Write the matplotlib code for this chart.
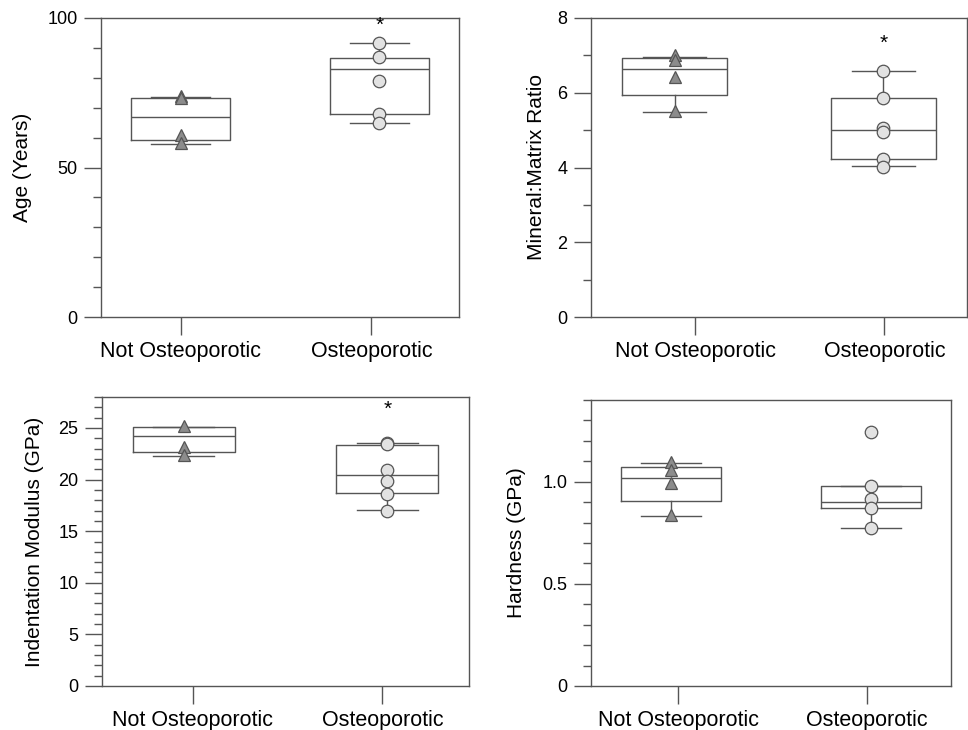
"""Four box plots: osteoporotic vs not osteoporotic bone properties."""

import matplotlib

matplotlib.use("Agg")
import matplotlib.pyplot as plt
from matplotlib.ticker import MultipleLocator

plt.rcParams["font.family"] = ["Liberation Sans", "DejaVu Sans"]

groups = ["Not Osteoporotic", "Osteoporotic"]

# individual samples
age_not = [74.0, 73.4, 61.0, 58.2]
age_ost = [91.7, 86.8, 78.8, 68.0, 64.9]
mm_not = [7.0, 6.88, 6.43, 5.51]
mm_ost = [6.57, 5.85, 5.07, 4.95, 4.24, 4.02]
mod_not = [25.2, 23.2, 22.4]
mod_ost = [23.5, 23.4, 20.9, 19.9, 18.6, 17.0]
hard_not = [1.095, 1.057, 0.992, 0.838]
hard_ost = [1.242, 0.979, 0.917, 0.871, 0.772]

# box stats (whislo, q1, med, q3, whishi) as drawn in the picture
age_boxes = [(57.8, 59.3, 66.8, 73.2, 73.7), (64.9, 67.8, 82.8, 86.7, 91.7)]
mm_boxes = [(5.49, 5.94, 6.63, 6.92, 6.96), (4.03, 4.22, 5.0, 5.85, 6.57)]
mod_boxes = [(22.3, 22.7, 24.2, 25.1, 25.1), (17.03, 18.7, 20.45, 23.35, 23.5)]
hard_boxes = [(0.833, 0.908, 1.016, 1.070, 1.092), (0.772, 0.871, 0.903, 0.977, 0.977)]

# significance markers: (group index, y)
age_star = [(1, 97.4)]
mm_star = [(1, 7.33)]
mod_star = [(1, 26.8)]
hard_star = []

EDGE = "#555555"


def draw_panel(ax, not_vals, ost_vals, boxes, stars, ylabel, ylim, major, minor,
               yticklabels, xticks, label_x):
    stats = []
    for lo, q1, med, q3, hi in boxes:
        stats.append({"whislo": lo, "q1": q1, "med": med, "q3": q3, "whishi": hi, "fliers": []})
    line = {"color": EDGE, "linewidth": 1.0}
    ax.bxp(stats, positions=[0, 1], widths=0.5, capwidths=0.3, showfliers=False,
           boxprops=line, whiskerprops=line, capprops=line, medianprops=line,
           manage_ticks=False)
    ax.plot([0] * len(not_vals), not_vals, linestyle="none", marker="^", markersize=8,
            markerfacecolor="#8c8c8c", markeredgecolor=EDGE, markeredgewidth=0.9, zorder=3)
    ax.plot([1] * len(ost_vals), ost_vals, linestyle="none", marker="o", markersize=9,
            markerfacecolor="#e2e2e2", markeredgecolor=EDGE, markeredgewidth=0.9, zorder=3)
    for gi, y in stars:
        ax.text(gi, y, "*", ha="center", va="center", fontsize=15)

    ax.set_xlim(-0.4, 1.4)
    ax.set_ylim(*ylim)
    ax.set_xticks(xticks)
    ax.set_xticklabels(groups, fontsize=15.5)
    ax.yaxis.set_major_locator(MultipleLocator(major))
    ax.yaxis.set_minor_locator(MultipleLocator(minor))
    ax.set_yticks([i * major for i in range(len(yticklabels))])
    ax.set_yticklabels(yticklabels, fontsize=13)
    ax.tick_params(axis="x", length=13, width=1.0, color=EDGE, pad=4)
    ax.tick_params(axis="y", which="major", length=12, width=1.0, color=EDGE, pad=5)
    ax.tick_params(axis="y", which="minor", length=6, width=1.0, color=EDGE)
    for sp in ax.spines.values():
        sp.set_color(EDGE)
        sp.set_linewidth(1.0)
    ax.set_ylabel(ylabel, fontsize=15, va="center")
    ax.yaxis.set_label_coords(label_x, 0.5)


W, H = 968, 730


def px_axes(fig, left, right, top, bottom):
    return fig.add_axes([left / W, 1 - bottom / H, (right - left) / W, (bottom - top) / H])


def main() -> None:
    fig = plt.figure(figsize=(W / 100, H / 100), dpi=100)

    ax1 = px_axes(fig, 101, 459, 18, 317)
    draw_panel(ax1, age_not, age_ost, age_boxes, age_star, "Age (Years)", (0, 100), 50, 10,
               ["0", "50", "100"], [0, 0.96], -0.218)

    ax2 = px_axes(fig, 591, 967, 18, 317)
    draw_panel(ax2, mm_not, mm_ost, mm_boxes, mm_star, "Mineral:Matrix Ratio", (0, 8), 2, 1,
               ["0", "2", "4", "6", "8"], [0.10, 1.005], -0.146)

    ax3 = px_axes(fig, 102, 469, 397, 686)
    draw_panel(ax3, mod_not, mod_ost, mod_boxes, mod_star, "Indentation Modulus (GPa)", (0, 28),
               5, 1, ["0", "5", "10", "15", "20", "25"], [0.044, 0.975], -0.183)

    ax4 = px_axes(fig, 591, 951, 400, 686)
    draw_panel(ax4, hard_not, hard_ost, hard_boxes, hard_star, "Hardness (GPa)", (0, 1.4),
               0.5, 0.1, ["0", "0.5", "1.0"], [0.035, 0.98], -0.208)

    fig.savefig("out.png", dpi=100)
    plt.close(fig)


if __name__ == "__main__":
    main()
